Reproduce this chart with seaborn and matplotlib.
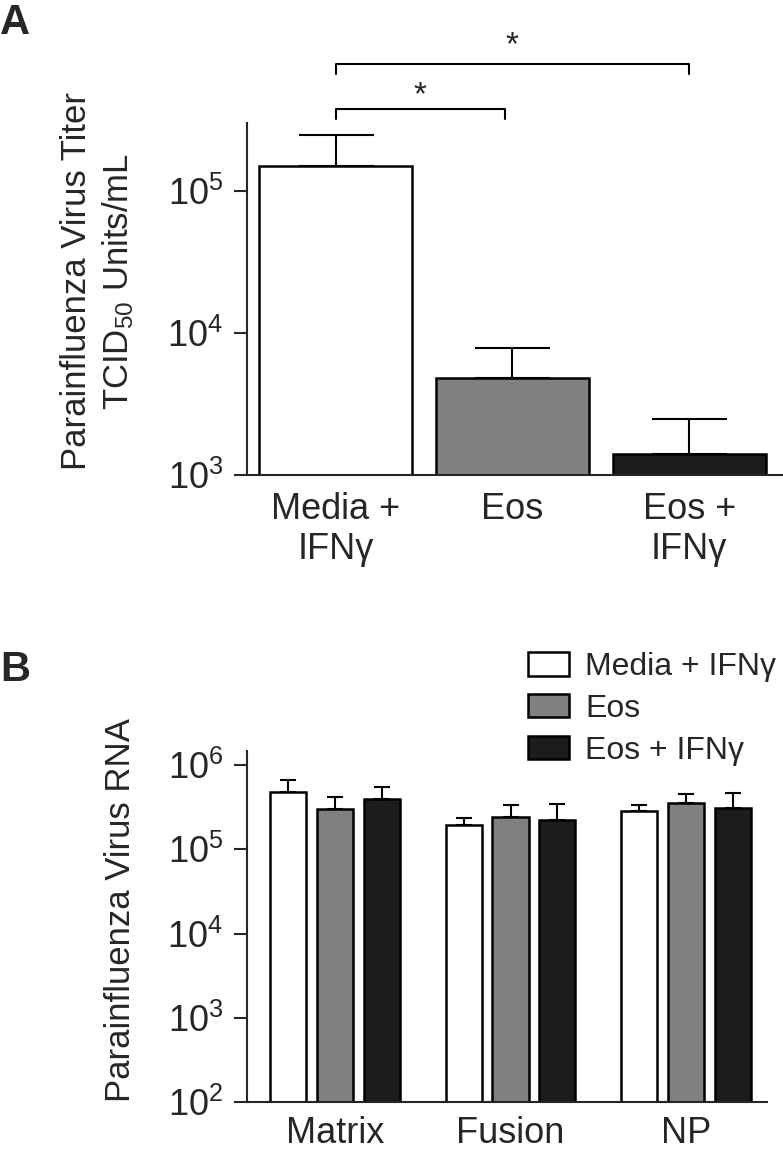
import numpy as np
import pandas as pd
import matplotlib
matplotlib.use("Agg")
import matplotlib.pyplot as plt
import matplotlib.ticker as mticker
from matplotlib.patches import Patch
import seaborn as sns

# ==========================
# Data
# ==========================
titer_groups = ["Media +\nIFNγ", "Eos", "Eos +\nIFNγ"]
titer_mean = [1.49e5, 4.8e3, 1.40e3]
titer_sem = [0.99e5, 3.0e3, 1.07e3]
titer_ticks = [1e3, 1e4, 1e5]

genes = ["Matrix", "Fusion", "NP"]
treatments = ["Media + IFNγ", "Eos", "Eos + IFNγ"]
rna_media = [4.7e5, 1.95e5, 2.8e5]
rna_media_sem = [1.9e5, 0.42e5, 0.55e5]
rna_eos = [3.0e5, 2.42e5, 3.5e5]
rna_eos_sem = [1.1e5, 0.94e5, 1.05e5]
rna_eos_ifn = [3.9e5, 2.24e5, 3.05e5]
rna_eos_ifn_sem = [1.5e5, 1.18e5, 1.6e5]
rna_ticks = [1e2, 1e3, 1e4, 1e5, 1e6]

bar_colors = ["white", "#808080", "#1c1c1c"]

# ==========================
# Style
# ==========================
sns.set_style("ticks")
plt.rcParams["font.family"] = ["Liberation Sans", "DejaVu Sans"]
plt.rcParams["mathtext.fontset"] = "custom"
plt.rcParams["mathtext.rm"] = "Liberation Sans"
plt.rcParams["mathtext.it"] = "Liberation Sans:italic"
plt.rcParams["mathtext.default"] = "regular"
plt.rcParams["axes.linewidth"] = 1.5

FS = 25
TICK_FS = 26

fig = plt.figure(figsize=(7.83, 11.53), dpi=100)
ax_a = fig.add_axes([0.3158, 0.58803, 0.6842, 0.30503])
ax_b = fig.add_axes([0.3158, 0.04397, 0.6634, 0.30495])

# ==========================
# Panel A
# ==========================
df_a = pd.DataFrame({"group": titer_groups, "titer": titer_mean})
sns.barplot(
    data=df_a, x="group", y="titer", hue="group",
    palette=bar_colors, width=0.866, edgecolor="black", linewidth=1.8,
    errorbar=None, legend=False, ax=ax_a
)
ax_a.errorbar(
    np.arange(len(titer_mean)), titer_mean,
    yerr=[np.zeros(len(titer_sem)), titer_sem],
    fmt="none", ecolor="black", elinewidth=1.5, capsize=27, capthick=1.5
)
ax_a.set_yscale("log", nonpositive="clip")
ax_a.set_ylim(1e3, 3e5)
ax_a.set_xlim(-0.5, 2.53)
ax_a.set_yticks(titer_ticks)
ax_a.yaxis.set_major_formatter(mticker.LogFormatterMathtext())
ax_a.yaxis.set_minor_locator(mticker.NullLocator())
ax_a.set_xlabel("")
ax_a.set_ylabel("Parainfluenza Virus Titer\nTCID$_{50}$ Units/mL",
                fontsize=FS, va="center", linespacing=1.25)
ax_a.yaxis.set_label_coords(-0.2785, 0.5516)
ax_a.tick_params(axis="y", labelsize=TICK_FS, length=9.4, width=1.5, pad=8)
ax_a.tick_params(axis="x", labelsize=TICK_FS, length=0, pad=12)
sns.despine(ax=ax_a)

# significance brackets
trans = ax_a.get_xaxis_transform()
for x0, x1, y, ytick, ystar in [(0, 0.955, 1.0407, 1.0122, 1.0555),
                                (0, 2.0, 1.1678, 1.140, 1.1968)]:
    ax_a.plot([x0, x0, x1, x1], [ytick, y, y, ytick], color="black",
              lw=1.5, transform=trans, clip_on=False)
    ax_a.text((x0 + x1) / 2, ystar, "*", fontsize=24, ha="center",
              va="baseline", transform=trans)

# ==========================
# Panel B
# ==========================
df_b = pd.DataFrame({
    "gene": genes * 3,
    "treatment": np.repeat(treatments, len(genes)),
    "rna": rna_media + rna_eos + rna_eos_ifn,
})
sns.barplot(
    data=df_b, x="gene", y="rna", hue="treatment", hue_order=treatments,
    palette=bar_colors, width=0.8, gap=0.23, edgecolor="black", linewidth=1.8,
    errorbar=None, legend=False, ax=ax_b
)
for i, (means, sems) in enumerate([(rna_media, rna_media_sem),
                                   (rna_eos, rna_eos_sem),
                                   (rna_eos_ifn, rna_eos_ifn_sem)]):
    xs = np.arange(len(genes)) + (i - 1) * 0.8 / 3
    ax_b.errorbar(xs, means, yerr=[np.zeros(len(sems)), sems], fmt="none",
                  ecolor="black", elinewidth=1.5, capsize=6, capthick=1.5)
ax_b.set_yscale("log", nonpositive="clip")
ax_b.set_ylim(1e2, 1.47e6)
ax_b.set_xlim(-0.5, 2.46)
ax_b.set_yticks(rna_ticks)
ax_b.yaxis.set_major_formatter(mticker.LogFormatterMathtext())
ax_b.yaxis.set_minor_locator(mticker.NullLocator())
ax_b.set_xlabel("")
ax_b.set_ylabel("Parainfluenza Virus RNA", fontsize=FS, va="center")
ax_b.yaxis.set_label_coords(-0.245, 0.547)
ax_b.tick_params(axis="y", labelsize=TICK_FS, length=9.4, width=1.5, pad=8)
ax_b.tick_params(axis="x", labelsize=TICK_FS, length=0, pad=10)
sns.despine(ax=ax_b)

handles = [Patch(facecolor=c, edgecolor="black", linewidth=1.8) for c in bar_colors]
fig.legend(handles, treatments, loc="upper left",
           bbox_to_anchor=(527.7 / 783, 1 - 652 / 1153),
           frameon=False, fontsize=23, handlelength=1.3, handleheight=0.75,
           handletextpad=0.5, labelspacing=0.37, borderpad=0, borderaxespad=0)

# panel letters
fig.text(0.0, 0.997, "A", fontsize=30, fontweight="bold", va="top")
fig.text(0.0, 1 - 650 / 1153, "B", fontsize=30, fontweight="bold", va="top")

plt.savefig("out.png", dpi=100)
